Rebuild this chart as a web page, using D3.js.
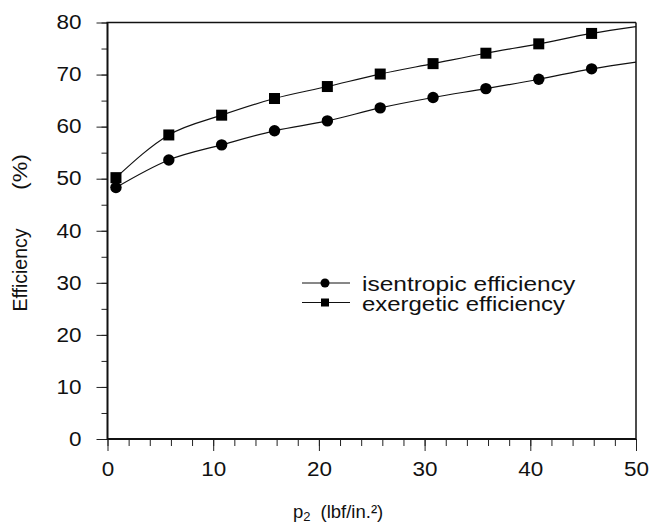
<!DOCTYPE html>
<html>
<head>
<meta charset="utf-8">
<script src="https://cdn.jsdelivr.net/npm/d3@7"></script>
<style>
  body { margin: 0; background: #fff; }
  text { font-family: "Liberation Sans", Arial, sans-serif; fill: #111; }
</style>
</head>
<body>
<div id="chart"></div>
<script>
// values
var pressure   = [0.8, 5.8, 10.8, 15.8, 20.8, 25.8, 30.8, 35.8, 40.8, 45.8];
var isentropic = [48.3, 53.6, 56.5, 59.2, 61.1, 63.6, 65.6, 67.3, 69.1, 71.1];
var exergetic  = [50.2, 58.4, 62.2, 65.4, 67.7, 70.1, 72.1, 74.1, 75.9, 77.9];
// fitted curves continue to the right edge of the plot
var curveEndX = 50;
var isentropicEnd = 72.4;
var exergeticEnd = 79.2;

var xTicks = [0, 10, 20, 30, 40, 50];
var yTicks = [0, 10, 20, 30, 40, 50, 60, 70, 80];
var seriesNames = ["isentropic efficiency", "exergetic efficiency"];

var width = 653, height = 523;
var margin = {top: 22.5, right: 17, bottom: 84, left: 107.5};

var svg = d3.select("#chart").append("svg")
    .attr("width", width)
    .attr("height", height);

var x = d3.scaleLinear().domain([0, 50]).range([margin.left, width - margin.right]);
var y = d3.scaleLinear().domain([0, 80]).range([height - margin.bottom, margin.top]);

// minor ticks
svg.append("g")
    .attr("transform", "translate(0," + y(0) + ")")
    .call(d3.axisBottom(x).tickValues(d3.range(0, 51, 2)).tickSize(7).tickSizeOuter(0).tickFormat(""))
    .call(function(g) { g.select(".domain").remove(); });

svg.append("g")
    .attr("transform", "translate(" + x(0) + ",0)")
    .call(d3.axisLeft(y).tickValues(d3.range(0, 81, 5)).tickSize(6).tickSizeOuter(0).tickFormat(""))
    .call(function(g) { g.select(".domain").remove(); });

// major ticks and labels
svg.append("g")
    .attr("transform", "translate(0," + y(0) + ")")
    .call(d3.axisBottom(x).tickValues(xTicks).tickSize(12).tickPadding(11).tickSizeOuter(0))
    .call(function(g) { g.select(".domain").remove(); });

svg.append("g")
    .attr("transform", "translate(" + x(0) + ",0)")
    .call(d3.axisLeft(y).tickValues(yTicks).tickSize(11).tickPadding(15).tickSizeOuter(0))
    .call(function(g) { g.select(".domain").remove(); });

svg.selectAll(".tick line").attr("stroke", "#222").attr("stroke-width", 1);
svg.selectAll(".tick text")
    .attr("font-family", "Liberation Sans, Arial, sans-serif")
    .attr("font-size", 19.5)
    .attr("fill", "#111")
    .attr("lengthAdjust", "spacingAndGlyphs")
    .attr("textLength", function() { return this.textContent.length * 12.5; });

// frame
svg.append("line")
    .attr("x1", x(0)).attr("x2", x(50)).attr("y1", y(0)).attr("y2", y(0))
    .attr("stroke", "#111").attr("stroke-width", 2);
svg.append("line")
    .attr("x1", x(0)).attr("x2", x(0)).attr("y1", y(0) + 1).attr("y2", y(80))
    .attr("stroke", "#111").attr("stroke-width", 2);
svg.append("line")
    .attr("x1", x(0) - 1).attr("x2", x(50)).attr("y1", y(80)).attr("y2", y(80))
    .attr("stroke", "#111").attr("stroke-width", 1.5);
svg.append("line")
    .attr("x1", x(50)).attr("x2", x(50)).attr("y1", y(80)).attr("y2", y(0) + 1)
    .attr("stroke", "#111").attr("stroke-width", 1.5);

var line = d3.line()
    .x(function(d) { return x(d[0]); })
    .y(function(d) { return y(d[1]); })
    .curve(d3.curveMonotoneX);

function pairs(values, endValue) {
    var pts = pressure.map(function(p, i) { return [p, values[i]]; });
    pts.push([curveEndX, endValue]);
    return pts;
}

svg.append("path")
    .attr("d", line(pairs(isentropic, isentropicEnd)))
    .attr("fill", "none").attr("stroke", "#111").attr("stroke-width", 1.2);
svg.append("path")
    .attr("d", line(pairs(exergetic, exergeticEnd)))
    .attr("fill", "none").attr("stroke", "#111").attr("stroke-width", 1.2);

// markers
svg.selectAll(".dot")
    .data(isentropic)
    .enter().append("circle")
    .attr("cx", function(d, i) { return x(pressure[i]); })
    .attr("cy", function(d) { return y(d); })
    .attr("r", 5.7)
    .attr("fill", "#000");

svg.selectAll(".sq")
    .data(exergetic)
    .enter().append("rect")
    .attr("x", function(d, i) { return x(pressure[i]) - 5.5; })
    .attr("y", function(d) { return y(d) - 5.5; })
    .attr("width", 11).attr("height", 11)
    .attr("fill", "#000");

// legend
var legend = svg.append("g").attr("transform", "translate(302,283)");
seriesNames.forEach(function(name, i) {
    var row = legend.append("g").attr("transform", "translate(0," + i * 19.5 + ")");
    row.append("line")
        .attr("x1", 0).attr("x2", 48).attr("y1", 0).attr("y2", 0)
        .attr("stroke", "#111").attr("stroke-width", 1);
    if (i === 0) {
        row.append("circle").attr("cx", 23).attr("cy", 0).attr("r", 4.5).attr("fill", "#000");
    } else {
        row.append("rect").attr("x", 19).attr("y", -4).attr("width", 8).attr("height", 8).attr("fill", "#000");
    }
    row.append("text")
        .attr("x", 60).attr("y", 8)
        .attr("font-size", 20)
        .attr("lengthAdjust", "spacingAndGlyphs")
        .attr("textLength", name.length * 10.15)
        .text(name);
});

// axis titles
var xTitle = svg.append("text")
    .attr("x", 293).attr("y", 518)
    .attr("font-size", 18.5);
xTitle.append("tspan").text("p");
xTitle.append("tspan").attr("font-size", 13).attr("dy", 3).text("2");
xTitle.append("tspan").attr("dy", -3).attr("dx", 10).text("(lbf/in.\u00b2)");

svg.append("text")
    .attr("transform", "translate(27,270) rotate(-90)")
    .attr("text-anchor", "middle")
    .attr("font-size", 19.5)
    .text("Efficiency");
svg.append("text")
    .attr("transform", "translate(27,172) rotate(-90)")
    .attr("text-anchor", "middle")
    .attr("font-size", 19.5)
    .attr("lengthAdjust", "spacingAndGlyphs")
    .attr("textLength", 36)
    .text("(%)");
</script>
</body>
</html>
